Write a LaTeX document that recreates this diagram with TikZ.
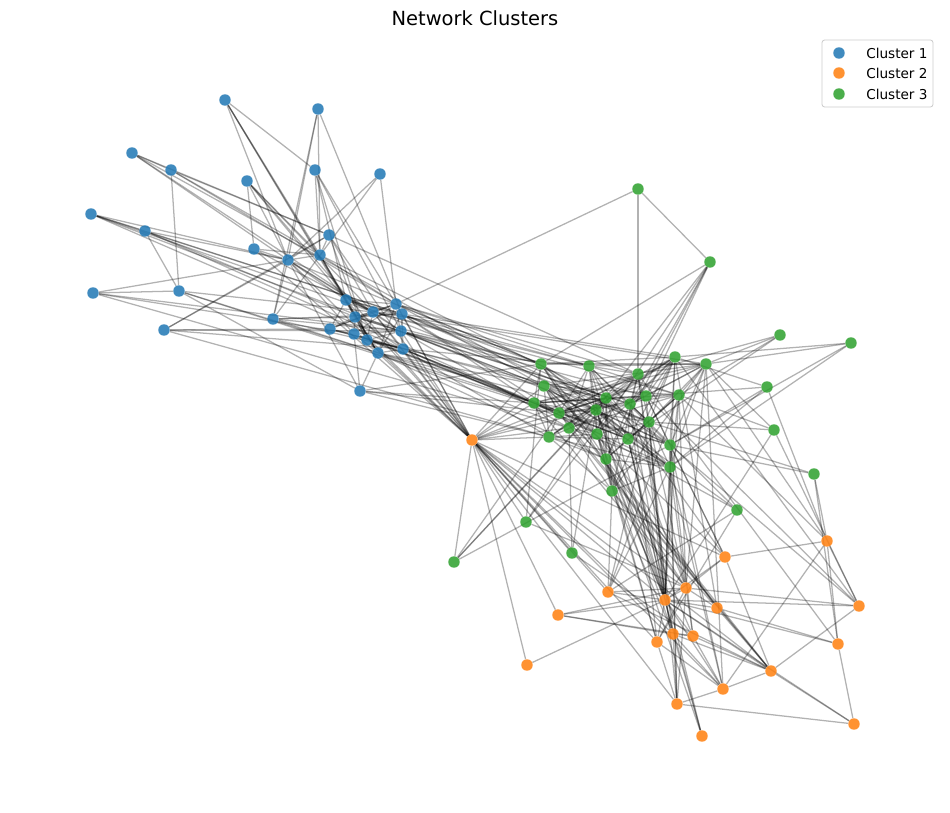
\documentclass[tikz,border=0pt]{standalone}
\usepackage{fontspec}
\setmainfont{DejaVu Sans}
\usetikzlibrary{backgrounds}
\definecolor{cA}{HTML}{1F77B4}
\definecolor{cB}{HTML}{FF7F0E}
\definecolor{cC}{HTML}{2CA02C}
\definecolor{legline}{HTML}{CCCCCC}
\tikzset{
  vtx/.style={circle,inner sep=0pt,minimum size=8.6pt,draw=none,fill opacity=0.85},
  bn/.style={vtx,fill=cA},
  on/.style={vtx,fill=cB},
  gn/.style={vtx,fill=cC},
  edge/.style={draw=black,draw opacity=0.3,line width=0.95pt},
  legbox/.style={draw=legline,fill=white,fill opacity=0.8,rounded corners=2pt,line width=0.6pt},
  legtxt/.style={anchor=west,font=\fontsize{10.2}{12}\selectfont,inner sep=0pt},
  titletxt/.style={font=\fontsize{14.6}{17}\selectfont}
}
\begin{document}
\begin{tikzpicture}[x=0.75pt,y=-0.75pt]
\useasboundingbox (0,0) rectangle (950,813);
% ---------------- nodes: cluster 1
\foreach \n/\x/\y in {
 1/225/100, 2/318/109, 3/132/153, 4/171/170, 5/247/181, 6/315/170, 7/380/174,
 8/91/214, 9/145/231, 10/254/249, 11/288/260, 12/320/255, 13/329/235,
 14/93/293, 15/179/291, 16/164/330, 17/273/319, 18/346/300, 19/355/317,
 20/373/312, 21/396/304, 22/402/314, 23/330/329, 24/354/334, 25/367/340,
 26/401/331, 27/378/353, 28/403/349, 29/360/391}
 \node[bn] (b\n) at (\x,\y) {};
% ---------------- nodes: cluster 3
\foreach \n/\x/\y in {
 1/541/364, 2/589/366, 3/675/357, 4/706/364, 5/638/374, 6/544/386,
 7/606/398, 8/646/396, 9/679/395, 10/630/404, 11/534/403, 12/596/410,
 13/559/413, 14/649/422, 15/569/428, 16/597/434, 17/628/439, 18/549/437,
 19/670/445, 20/606/459, 21/670/467, 22/612/491, 23/638/189, 24/710/262,
 25/780/335, 26/851/343, 27/767/387, 28/774/430, 29/814/474, 30/737/510,
 31/526/522, 32/572/553, 33/454/562}
 \node[gn] (g\n) at (\x,\y) {};
% ---------------- nodes: cluster 2
\foreach \n/\x/\y in {
 1/472/440, 2/827/541, 3/725/557, 4/608/592, 5/686/588, 6/665/600,
 7/717/608, 8/859/606, 9/558/615, 10/673/634, 11/693/636, 12/657/642,
 13/838/644, 14/527/665, 15/771/671, 16/723/689, 17/677/704, 18/854/724,
 19/702/736}
 \node[on] (o\n) at (\x,\y) {};
% ---------------- edges
\begin{pgfonlayer}{background}
\fill[white] (0,0) rectangle (950,813);
\pgfmathsetseed{7}
% dense core of cluster 1
\foreach \i in {18,...,27}{
  \pgfmathtruncatemacro{\js}{\i+1}
  \foreach \j in {\js,...,28}{
    \pgfmathrnd
    \ifdim\pgfmathresult pt<0.7pt \draw[edge] (b\i) -- (b\j); \fi
  }
}
% dense core of cluster 3
\foreach \i in {1,...,21}{
  \pgfmathtruncatemacro{\js}{\i+1}
  \foreach \j in {\js,...,22}{
    \pgfmathrnd
    \ifdim\pgfmathresult pt<0.45pt \draw[edge] (g\i) -- (g\j); \fi
  }
}
% cluster 1 periphery
\foreach \a/\b in {
 b1/b6, b1/b11, b1/b19, b1/b27, b1/b12,
 b2/b17, b2/b12, b2/b22, b2/b11,
 b3/b4, b3/b11, b3/b20, b3/b13,
 b4/b15, b4/b13, b4/b12, b4/b21,
 b5/b11, b5/b18, b5/b12, b5/b20,
 b6/b12, b6/b18, b6/b21, b6/b26, b6/b25,
 b7/b17, b7/b21, b7/b11,
 b8/b9, b8/b11, b8/b20, b8/b22, b8/b28,
 b9/b15, b9/b11, b9/b19, b9/b22,
 b10/b11, b10/b12, b10/b20, b10/b5,
 b11/b12, b11/b13, b11/b18, b11/b20, b11/b24, b11/b26, b11/b29,
 b12/b13, b12/b18, b12/b19, b12/b21, b12/b27,
 b13/b16, b13/b20, b13/b25,
 b14/b11, b14/b15, b14/b24, b14/b26,
 b15/b29, b15/b20, b15/b27,
 b16/b11, b16/b26, b16/b28, b16/b23,
 b17/b26, b17/b22, b17/b28, b17/b19, b17/b11,
 b29/b24, b29/b27}
 \draw[edge] (\a) -- (\b);
% cluster 1 to cluster 3
\foreach \a/\b in {
 b21/g1, b21/g2, b21/g6, b21/g23, b21/g5, b22/g1, b22/g7, b22/g11, b22/g13,
 b22/g14, b22/g3, b26/g1, b26/g6, b26/g12, b26/g15, b26/g10, b26/g8,
 b28/g11, b28/g13, b28/g16, b28/g17, b28/g18, b28/g2, b27/g6, b27/g12,
 b27/g15, b27/g20, b25/g13, b25/g7, b20/g2, b20/g9, b20/g4, b19/g1, b19/g10,
 b18/g2, b18/g14, b24/g11, b24/g17, b23/g6, b29/g1, b29/g11, b29/g13,
 b29/g18, b8/g6, b9/g11, b3/g12, b14/g15, b16/g18, b11/g1, b12/g7, b13/g5,
 b17/g11, b15/g13}
 \draw[edge] (\a) -- (\b);
% cluster 1 to the hub of cluster 2
\foreach \a in {b21, b22, b26, b28, b20, b25, b27, b11, b13, b18, b5, b10}
 \draw[edge] (\a) -- (o1);
% cluster 3 periphery
\foreach \a/\b in {
 g23/g24, g23/g5,
 g24/g1, g24/g8, g24/g16, g24/g10, g24/g12, g24/g20,
 g25/g4, g25/g9, g25/g5, g25/g17,
 g26/g4, g26/g3, g26/g21, g26/g19,
 g27/g3, g27/g8, g27/g21, g27/g19, g27/o2,
 g28/g9, g28/g4, g28/o6, g28/g14, g28/o8,
 g29/g19, g29/g14, g29/o13, g29/o2,
 g30/g16, g30/g12, g30/o4, g30/o12, g30/g10,
 g31/g1, g31/o1, g31/g7, g31/o5, g31/g5,
 g32/g15, g32/o1, g32/o11, g32/g12,
 g33/g13, g33/g12, g33/g19, g33/o1, g33/g7}
 \draw[edge] (\a) -- (\b);
% cluster 3 core to cluster 2
\foreach \a/\b in {
 g2/o6, g5/o6, g7/o6, g8/o6, g10/o6, g12/o6, g14/o6, g16/o6, g17/o6,
 g19/o6, g20/o6, g21/o6, g3/o6, g9/o6,
 g1/o5, g4/o5, g9/o5, g14/o5, g17/o5, g21/o5, g22/o5, g10/o5, g11/o5,
 g19/o3, g2/o3, g8/o3, g6/o3,
 g3/o7, g20/o7, g16/o7, g22/o7,
 g5/o10, g17/o10, g22/o10, g12/o10,
 g16/o12, g20/o12, g10/o12,
 g21/o17, g14/o17, g19/o17,
 g20/o19, g17/o19,
 g13/o15, g6/o15, g15/o15,
 g22/o4, g14/o4, g9/o4, g21/o4,
 g21/o16, g19/o16, g4/o16,
 g4/o2, g9/o2, g3/o8, g8/o8, g19/o8,
 g5/o13, g19/o11, g12/o11,
 g1/o1, g6/o1, g11/o1, g12/o1, g15/o1, g7/o1, g5/o1, g18/o1}
 \draw[edge] (\a) -- (\b);
% cluster 2
\foreach \a/\b in {
 o1/o4, o1/o6, o1/o9, o1/o14, o1/o17, o1/o10, o1/o16, o1/o15, o1/o3, o1/o12, o1/o5,
 o2/o3, o2/o13, o2/o8, o2/o16,
 o3/o6, o3/o15, o3/o5,
 o4/o5, o4/o15, o4/o6,
 o5/o6, o5/o7, o5/o8, o5/o9, o5/o11, o5/o12, o5/o17,
 o6/o7, o6/o9, o6/o13, o6/o14, o6/o18, o6/o15, o6/o10, o6/o12, o6/o11,
 o6/o8, o6/o19, o6/o16,
 o7/o13, o7/o15, o8/o15, o9/o11, o9/o10,
 o10/o11, o10/o16, o10/o17, o10/o19, o10/o15,
 o11/o15, o11/o16, o12/o16, o12/o17, o13/o18,
 o15/o16, o16/o17, o17/o18, o18/o15}
 \draw[edge] (\a) -- (\b);
\end{pgfonlayer}
% ---------------- title
\node[titletxt] (title) at (475,18) {Network Clusters};
% ---------------- legend
\node[legbox,minimum width=83.25pt,minimum height=50.25pt,inner sep=0pt] (legend) at (877.5,73.5) {};
\node[bn] (l1) at (839,53) {};
\node[on] (l2) at (839,73) {};
\node[gn] (l3) at (839,94) {};
\node[legtxt] (t1) at (866,53) {Cluster 1};
\node[legtxt] (t2) at (866,73) {Cluster 2};
\node[legtxt] (t3) at (866,94) {Cluster 3};
\end{tikzpicture}
\end{document}
